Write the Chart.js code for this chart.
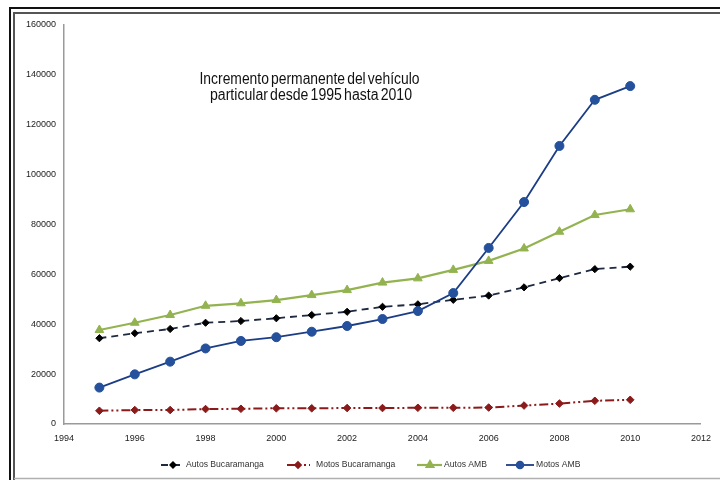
<!DOCTYPE html>
<html>
<head>
<meta charset="utf-8">
<script src="https://cdn.jsdelivr.net/npm/chart.js@4/dist/chart.umd.min.js"></script>
<style>
html,body{margin:0;padding:0;background:#ffffff;}
#wrap{width:720px;height:480px;position:relative;}
</style>
</head>
<body>
<div id="wrap"><canvas id="c" width="720" height="480"></canvas></div>
<script>
const years = [1995,1996,1997,1998,1999,2000,2001,2002,2003,2004,2005,2006,2007,2008,2009,2010];
const autosBucaramanga = [34400,36400,38100,40600,41300,42400,43700,45000,47000,48000,49800,51500,54800,58500,62100,63100];
const motosBucaramanga = [5300,5600,5600,6000,6100,6300,6300,6400,6400,6500,6500,6600,7400,8200,9300,9700];
const autosAMB = [37700,40600,43700,47400,48400,49700,51700,53700,56700,58400,61800,65400,70400,77100,83800,86100];
const motosAMB = [14600,19900,25000,30300,33300,34800,37000,39300,42100,45300,52500,70600,89000,111500,130000,135500];
const xTicks = [1994,1996,1998,2000,2002,2004,2006,2008,2010,2012];
const yTicks = [0,20000,40000,60000,80000,100000,120000,140000,160000];
const seriesNames = ['Autos Bucaramanga','Motos Bucaramanga','Autos AMB','Motos AMB'];
const titleLines = ['Incremento permanente del vehículo','particular desde 1995 hasta 2010'];

const pts = arr => years.map((y,i)=>({x:y, y:arr[i]}));

const FONT = "'Liberation Sans', Arial, sans-serif";

const styles = [
  {line:'#1e2a40', point:'#000000', dash:[7,5], pstyle:'rectRot', r:3.6, w:1.8},
  {line:'#8b1a1a', point:'#8b1a1a', dash:[9,3,2,3,2,3], pstyle:'rectRot', r:3.8, w:2},
  {line:'#93b350', point:'#93b350', dash:[], pstyle:'triangle', r:5, w:2.2},
  {line:'#1b3d86', point:'#24509c', dash:[], pstyle:'circle', r:4.5, w:1.8}
];
const dataArrays = [autosBucaramanga, motosBucaramanga, autosAMB, motosAMB];
const orders = [2,3,1,0];

const datasets = dataArrays.map((arr,i)=>({
  label: seriesNames[i],
  data: pts(arr),
  borderColor: styles[i].line,
  backgroundColor: styles[i].point,
  pointBackgroundColor: styles[i].point,
  pointBorderColor: styles[i].point,
  pointBorderWidth: 1,
  pointStyle: styles[i].pstyle,
  pointRadius: styles[i].r,
  borderWidth: styles[i].w,
  borderDash: styles[i].dash,
  tension: 0,
  fill: false,
  order: orders[i]
}));

function drawFitted(ctx, text, cx, baseline, targetWidth){
  const w = ctx.measureText(text).width;
  const sx = targetWidth / w;
  ctx.save();
  ctx.translate(cx, baseline);
  ctx.scale(sx, 1);
  ctx.fillText(text, 0, 0);
  ctx.restore();
}

const framePlugin = {
  id:'frame',
  beforeDraw(chart){
    const ctx = chart.ctx;
    ctx.save();
    ctx.fillStyle = '#ffffff';
    ctx.fillRect(0,0,chart.width,chart.height);
    ctx.strokeStyle = '#111111';
    ctx.lineWidth = 2;
    ctx.beginPath();
    ctx.moveTo(10,480); ctx.lineTo(10,8); ctx.lineTo(720,8);
    ctx.stroke();
    ctx.strokeStyle = '#555555';
    ctx.lineWidth = 2;
    ctx.beginPath();
    ctx.moveTo(720,13); ctx.lineTo(14,13); ctx.lineTo(14,480);
    ctx.stroke();
    ctx.strokeStyle = '#b0b0b0';
    ctx.lineWidth = 1.5;
    ctx.beginPath();
    ctx.moveTo(14,478.5); ctx.lineTo(720,478.5);
    ctx.stroke();
    ctx.restore();
  },
  afterDraw(chart){
    const ctx = chart.ctx;
    ctx.save();
    ctx.fillStyle = '#111111';
    ctx.font = '16px ' + FONT;
    ctx.textAlign = 'center';
    ctx.textBaseline = 'alphabetic';
    try { ctx.wordSpacing = '-2px'; } catch(e) {}
    drawFitted(ctx, titleLines[0], 309.5, 84, 220);
    drawFitted(ctx, titleLines[1], 311, 99.5, 202);
    try { ctx.wordSpacing = '0px'; } catch(e) {}
    const items = [
      {x1:161,x2:185,mx:173,tx:186},
      {x1:287,x2:310,mx:298,tx:316},
      {x1:417,x2:442,mx:430,tx:444},
      {x1:506,x2:534,mx:520,tx:536}
    ];
    const ly = 465;
    items.forEach((it,i)=>{
      const s = styles[i];
      ctx.strokeStyle = s.line;
      ctx.lineWidth = s.w;
      ctx.setLineDash(s.dash);
      ctx.beginPath();
      ctx.moveTo(it.x1,ly); ctx.lineTo(it.x2,ly);
      ctx.stroke();
      ctx.setLineDash([]);
      ctx.fillStyle = s.point; ctx.strokeStyle = s.point;
      Chart.helpers.drawPoint(ctx, {pointStyle:s.pstyle, radius:s.r*0.75, borderWidth:1, rotation:0}, it.mx, ly);
      ctx.fill();
      ctx.fillStyle = '#333333';
      ctx.font = '8.6px ' + FONT;
      ctx.textAlign = 'left';
      ctx.textBaseline = 'middle';
      ctx.fillText(seriesNames[i], it.tx, ly);
    });
    ctx.restore();
  }
};

new Chart(document.getElementById('c'), {
  type:'line',
  data:{datasets},
  options:{
    responsive:false,
    animation:false,
    devicePixelRatio:1,
    layout:{padding:{left:0,right:13,top:25,bottom:0}},
    plugins:{legend:{display:false},title:{display:false},tooltip:{enabled:false}},
    scales:{
      x:{
        type:'linear', min:1994, max:2012,
        afterBuildTicks(scale){ scale.ticks = xTicks.map(v=>({value:v})); },
        afterFit(scale){ scale.height = 56; },
        grid:{display:false, drawTicks:false},
        border:{display:true, color:'#9a9a9a', width:1.5},
        ticks:{padding:9, color:'#222222', font:{size:9, family:FONT}, maxRotation:0, callback:v=>String(v)}
      },
      y:{
        type:'linear', min:0, max:160000,
        afterBuildTicks(scale){ scale.ticks = yTicks.map(v=>({value:v})); },
        afterFit(scale){ scale.width = 64; },
        grid:{display:false, drawTicks:false},
        border:{display:true, color:'#9a9a9a', width:1.5},
        ticks:{padding:8, color:'#222222', font:{size:9, family:FONT}, callback:v=>String(v)}
      }
    }
  },
  plugins:[framePlugin]
});
</script>
</body>
</html>
